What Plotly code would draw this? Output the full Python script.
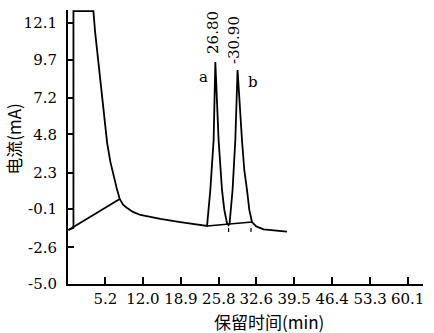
import plotly.graph_objects as go

# ---- data ----
signal_x = [-1.52, -0.61, -0.61, 3.02, 3.3, 3.69, 4.1, 4.6, 5.05, 5.51, 6.1, 6.71, 7.3, 7.8, 8.4, 9.14, 10.2,
            11.55, 15.18, 18.81, 22.44,
            23.66, 24.26, 24.86, 25.17, 25.76, 26.38, 26.8, 27.29, 27.58,
            27.76, 28.3, 28.8, 29.21, 30.01, 30.43, 30.92, 31.34, 31.83, 32.61, 33.93, 38.18]
signal_y = [-1.46, -1.33, 12.88, 12.88, 11.6, 10.33, 8.6, 7.05, 5.6, 4.24, 3.0, 2.01, 1.2, 0.57, 0.2, -0.02, -0.28,
            -0.48, -0.74, -0.94, -1.14,
            -1.2, 1.16, 4.43, 9.54, 4.43, 1.16, -0.15, -1.02, -1.14,
            -1.02, 1.16, 4.43, 9.02, 4.43, 2.47, 1.16, -0.15, -0.94, -1.23, -1.42, -1.57]

base1_x = [-1.52, 7.8]
base1_y = [-1.46, 0.57]
base2_x = [23.66, 31.83]
base2_y = [-1.2, -0.94]
mark_x = [27.58, 27.58, None, 31.65, 31.65]
mark_y = [-1.33, -1.6, None, -1.33, -1.6]

x_ticks = [5.2, 12.0, 18.9, 25.8, 32.6, 39.5, 46.4, 53.3, 60.1]
y_ticks = [-5.0, -2.6, -0.1, 2.3, 4.8, 7.2, 9.7, 12.1]

peak_labels = ["26.80", "-30.90"]
peak_label_x = [24.71, 28.43]
peak_label_y = [11.5, 11.0]
peak_names = ["a", "b"]
peak_name_x = [22.93, 32.06]
peak_name_y = [8.58, 8.25]

serif = "DejaVu Serif"
cjk = "Noto Sans CJK SC"

fig = go.Figure()
line = dict(color="black", width=1.8, shape="linear")
fig.add_trace(go.Scatter(x=signal_x, y=signal_y, mode="lines", line=line, hoverinfo="skip"))
fig.add_trace(go.Scatter(x=base1_x, y=base1_y, mode="lines", line=line, hoverinfo="skip"))
fig.add_trace(go.Scatter(x=base2_x, y=base2_y, mode="lines", line=dict(color="black", width=1.4), hoverinfo="skip"))
fig.add_trace(go.Scatter(x=mark_x, y=mark_y, mode="lines", line=dict(color="black", width=1.2), hoverinfo="skip"))

for t, x, y in zip(peak_labels, peak_label_x, peak_label_y):
    fig.add_annotation(x=x, y=y, text=t, showarrow=False, textangle=-90,
                       font=dict(family=serif, size=15, color="black"))
for t, x, y in zip(peak_names, peak_name_x, peak_name_y):
    fig.add_annotation(x=x, y=y, text=t, showarrow=False,
                       font=dict(family=serif, size=15, color="black"))

fig.add_annotation(xref="paper", yref="paper", x=0.566, y=-0.137, yanchor="middle",
                   text="保留时间(min)", showarrow=False,
                   font=dict(family=cjk, size=17, color="black"))
fig.add_annotation(xref="paper", yref="paper", x=-0.152, y=0.53, xanchor="center", yanchor="middle",
                   text="电流(mA)", showarrow=False, textangle=-90,
                   font=dict(family=cjk, size=17, color="black"))

fig.update_layout(
    width=434, height=333,
    margin=dict(l=68, r=11, t=10, b=49),
    paper_bgcolor="white", plot_bgcolor="white",
    font=dict(family=serif, size=14, color="black"),
    showlegend=False,
    xaxis=dict(range=[-1.6, 62.9], tickvals=x_ticks, ticktext=[f"{v:.1f}" for v in x_ticks],
               ticks="inside", ticklen=7, tickwidth=1.5, tickcolor="black",
               showline=True, linecolor="black", linewidth=2, showgrid=False, zeroline=False,
               tickfont=dict(family=serif, size=15, color="black")),
    yaxis=dict(range=[-5.0, 12.95], tickvals=y_ticks, ticktext=[f"{v:.1f}" for v in y_ticks],
               ticks="inside", ticklen=6, tickwidth=1.5, tickcolor="black", ticklabelstandoff=6,
               showline=True, linecolor="black", linewidth=2, showgrid=False, zeroline=False,
               tickfont=dict(family=serif, size=15, color="black")),
)

fig.write_html("out.html")
